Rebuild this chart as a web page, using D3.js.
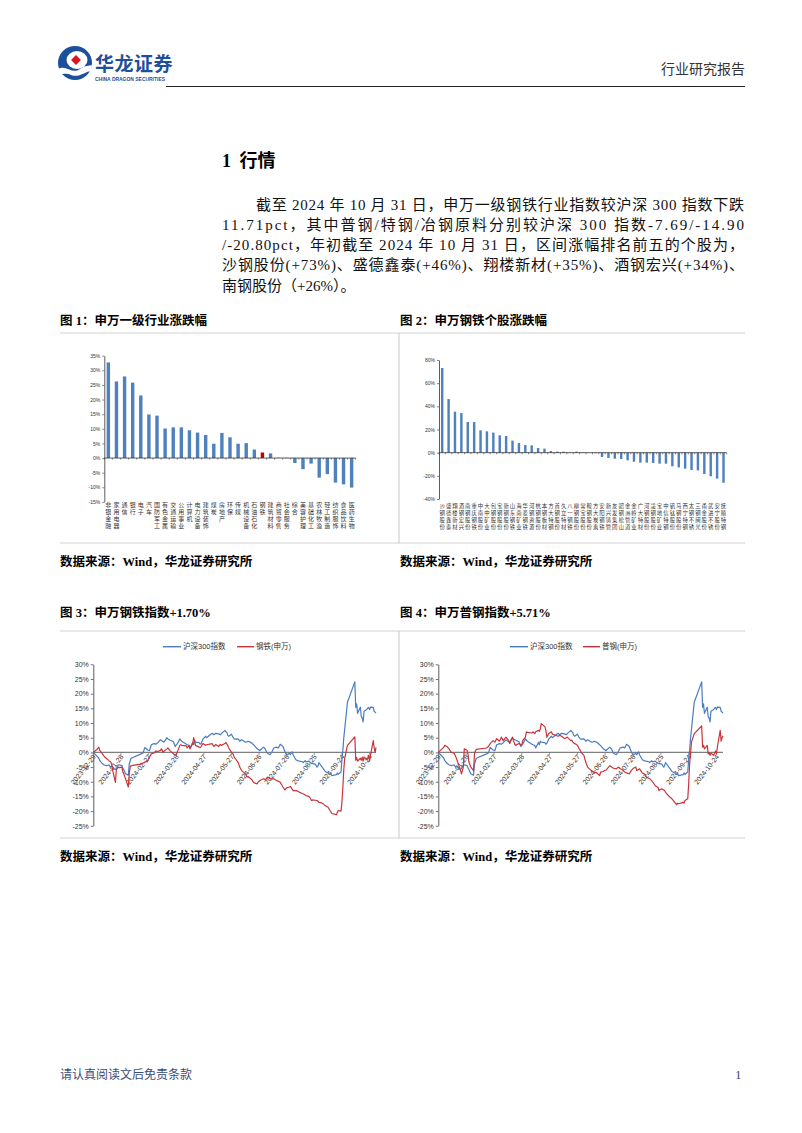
<!DOCTYPE html>
<html><head><meta charset="utf-8">
<script src="https://cdn.jsdelivr.net/npm/d3@7"></script>
<style>body{margin:0;background:#fff}</style>
</head><body><svg id="c" width="802" height="1133"></svg>
<script>
// ---------- DATA ----------
const industries = ["非银金融","家用电器","通信","银行","电子","汽车","国防军工","有色金属","交通运输","公用事业","计算机","电力设备","建筑装饰","煤炭","房地产","环保","传媒","机械设备","石油石化","钢铁","建筑材料","商贸零售","社会服务","综合","美容护理","基础化工","农林牧渔","轻工制造","纺织服饰","食品饮料","医药生物"];
const industryChange = [32.7,26.2,27.9,25.8,21.4,14.9,14.5,10.1,10.5,10.5,9.5,8.7,7.9,4.9,8.6,7.1,4.9,5.1,2.9,1.9,1.6,0.1,0.1,-1.7,-3.8,-1.9,-6.7,-5.5,-8.4,-9.0,-10.1];
const highlightIndustry = "钢铁";
const industryTicks = [-15,-10,-5,0,5,10,15,20,25,30,35];

const stocks = ["沙钢股份","盛德鑫泰","翔楼新材","酒钢宏兴","南钢股份","重庆钢铁","中南股份","大中矿业","包钢股份","宝钢股份","新钢股份","山东钢铁","海南矿业","华菱钢铁","河钢资源","杭钢股份","本钢板材","方大特钢","首钢股份","久立特材","八一钢铁","柳钢股份","常宝股份","鞍钢股份","方大炭素","安阳钢铁","新兴铸管","友发集团","韶钢松山","金洲管道","金岭矿业","广大特材","河钢股份","凌钢股份","宝地矿业","中信特钢","钒钛股份","马钢股份","西宁特钢","太钢不锈","三钢闽光","甬金股份","武进不锈","安宁股份","抚顺特钢"];
const stockChange = [73.1,46.3,35.4,34.2,26.5,26.4,19.3,18.4,17.3,15.0,14.4,10.4,8.3,6.6,6.3,4.0,3.5,1.4,0.9,0.9,0.3,0.9,0.3,0.1,-0.5,-3.7,-4.6,-5.2,-5.5,-6.6,-7.8,-8.6,-8.6,-8.9,-9.5,-9.5,-11.8,-12.7,-13.8,-15.0,-15.3,-18.4,-20.4,-22.4,-26.0];
const stockTicks = [-40,-20,0,20,40,60,80];

const dates = [
"2023-12-29","2024-01-02","2024-01-04","2024-01-05","2024-01-08","2024-01-10","2024-01-12","2024-01-15","2024-01-17","2024-01-18",
"2024-01-19","2024-01-22","2024-01-23","2024-01-25","2024-01-26","2024-01-29","2024-01-30","2024-01-31","2024-02-02","2024-02-05",
"2024-02-06","2024-02-07","2024-02-08","2024-02-19","2024-02-21","2024-02-23","2024-02-26","2024-02-28","2024-03-01","2024-03-04",
"2024-03-06","2024-03-08","2024-03-11","2024-03-12","2024-03-14","2024-03-15","2024-03-18","2024-03-19","2024-03-21","2024-03-25",
"2024-03-27","2024-03-28","2024-03-29","2024-04-01","2024-04-02","2024-04-03","2024-04-08","2024-04-09","2024-04-11","2024-04-12",
"2024-04-15","2024-04-16","2024-04-17","2024-04-18","2024-04-22","2024-04-23","2024-04-24","2024-04-26","2024-04-29","2024-04-30",
"2024-05-06","2024-05-08","2024-05-10","2024-05-13","2024-05-15","2024-05-16","2024-05-20","2024-05-21","2024-05-22","2024-05-23",
"2024-05-24","2024-05-27","2024-05-29","2024-05-30","2024-05-31","2024-06-03","2024-06-04","2024-06-05","2024-06-07","2024-06-11",
"2024-06-13","2024-06-14","2024-06-17","2024-06-18","2024-06-20","2024-06-21","2024-06-24","2024-06-25","2024-06-27","2024-06-28",
"2024-07-01","2024-07-03","2024-07-04","2024-07-05","2024-07-08","2024-07-10","2024-07-12","2024-07-15","2024-07-17","2024-07-19",
"2024-07-22","2024-07-24","2024-07-26","2024-07-29","2024-07-30","2024-08-01","2024-08-02","2024-08-05","2024-08-07","2024-08-09",
"2024-08-12","2024-08-13","2024-08-15","2024-08-16","2024-08-19","2024-08-20","2024-08-22","2024-08-23","2024-08-26","2024-08-28",
"2024-08-29","2024-08-30","2024-09-02","2024-09-04","2024-09-06","2024-09-09","2024-09-11","2024-09-12","2024-09-13","2024-09-18",
"2024-09-19","2024-09-20","2024-09-23","2024-09-24","2024-09-25","2024-09-26","2024-09-27","2024-09-30","2024-10-08","2024-10-09",
"2024-10-10","2024-10-11","2024-10-14","2024-10-15","2024-10-16","2024-10-17","2024-10-18","2024-10-21","2024-10-22","2024-10-23",
"2024-10-24","2024-10-25","2024-10-28","2024-10-29","2024-10-30","2024-10-31"];
const hs300 = [
0,-1.3,-2.0,-2.8,-3.9,-4.3,-4.5,-4.3,-5.0,-4.6,
-5.2,-5.8,-5.5,-4.3,-4.2,-4.5,-5.2,-5.8,-7.3,-7.8,
-4.0,-3.0,-2.0,-0.5,-0.2,1.7,0.8,0.6,2.6,3.0,
2.8,3.3,4.3,4.0,3.6,3.6,5.0,4.6,4.2,3.6,
2.0,2.5,2.8,4.6,4.2,3.8,2.8,2.6,2.4,1.5,
3.4,2.6,3.8,3.5,3.3,2.8,3.0,4.5,5.5,5.0,
6.5,6.0,6.5,6.3,6.0,6.4,7.5,7.0,6.8,5.8,
5.5,6.2,5.0,4.6,4.5,4.6,4.3,3.8,4.3,3.5,
3.6,3.8,3.4,3.2,2.6,2.3,1.2,1.0,0.6,1.0,
1.8,1.0,0.3,-0.3,-0.8,0.2,1.5,1.8,1.5,2.8,
2.0,0.3,-1.0,-0.3,-0.8,0.2,-0.8,-2.5,-2.8,-3.0,
-3.2,-3.5,-2.8,-3.2,-3.0,-3.3,-3.8,-3.8,-4.0,-5.0,
-4.6,-3.5,-4.8,-5.6,-6.5,-7.0,-7.5,-7.4,-7.9,-7.6,
-7.0,-7.5,-6.7,-2.3,0.7,4.9,7.9,17.1,24.0,15.3,
16.5,13.3,15.4,12.3,11.6,10.4,14.0,14.6,15.1,15.3,
14.6,15.4,15.3,14.0,13.7,13.4];
const steelSW = [
0,1.0,1.8,0.7,-0.5,-1.5,-2.0,-2.8,-3.3,-4.0,
-6.0,-10.2,-6.0,-5.0,-5.2,-5.0,-6.5,-7.3,-9.0,-11.8,
-7.5,-5.0,-4.5,-4.0,-3.6,-3.3,-2.8,-1.6,-0.5,-0.2,
0.5,0.3,0.7,1.2,0.0,0.5,1.2,1.5,0.7,-0.5,
-0.8,-1.0,0.0,2.4,2.6,2.4,2.2,1.5,2.4,1.2,
3.0,5.0,4.0,2.4,1.8,1.6,2.0,3.0,2.4,2.6,
3.0,2.0,2.7,2.0,2.7,2.4,3.0,3.4,2.8,2.4,
1.6,0.0,-0.7,-1.6,-2.0,-3.3,-4.0,-5.0,-6.2,-7.3,
-8.4,-8.2,-9.0,-9.2,-10.2,-10.4,-10.7,-10.1,-9.6,-9.4,
-9.0,-9.2,-9.0,-8.4,-9.0,-9.0,-9.0,-9.6,-9.8,-10.2,
-11.8,-12.8,-12.1,-11.8,-11.6,-12.5,-13.0,-13.0,-13.2,-13.6,
-14.0,-14.1,-14.5,-14.7,-15.0,-15.3,-16.4,-16.2,-16.3,-16.4,
-16.6,-17.0,-17.2,-17.6,-18.2,-18.7,-19.8,-20.2,-20.8,-21.2,
-20.5,-19.8,-20.0,-17.0,-11.9,-6.0,-2.0,2.4,5.3,-2.7,
-1.8,-3.0,-2.0,-2.7,-1.6,-3.0,-1.5,-2.5,-2.0,-1.0,
-3.0,-1.0,4.0,1.5,0.0,1.7];
const puGangSW = [
0,1.2,1.8,2.4,1.8,1.0,0.0,-0.3,-1.6,-2.5,
-3.3,-6.2,-7.3,-5.0,1.2,0.7,-0.5,-3.3,-5.0,-6.2,
-0.5,0.5,1.0,1.5,2.0,3.0,4.0,3.5,4.7,3.8,
5.2,4.0,5.2,4.8,4.0,3.0,5.2,4.0,2.4,3.0,
2.5,2.4,4.0,5.2,7.0,6.8,6.6,7.0,6.4,7.0,
7.5,7.2,8.0,9.8,8.7,7.5,5.2,6.4,7.0,6.2,
5.5,5.8,5.5,4.7,5.0,5.2,4.0,4.2,3.5,3.2,
3.0,2.4,1.2,0.8,0.0,-1.0,-2.2,-3.3,-5.0,-6.2,
-6.5,-6.7,-7.0,-7.3,-7.9,-6.7,-6.5,-6.2,-6.0,-5.6,
-4.5,-5.0,-5.2,-5.4,-5.6,-5.0,-5.5,-6.0,-6.7,-7.0,
-7.3,-6.2,-5.5,-5.0,-6.2,-5.8,-5.6,-7.0,-7.3,-8.4,
-8.8,-9.0,-9.6,-10.0,-11.3,-11.6,-11.9,-13.0,-12.4,-12.8,
-13.0,-13.6,-14.7,-15.3,-15.8,-17.0,-17.8,-17.3,-17.5,-17.0,
-17.3,-16.4,-15.8,-10.7,-3.9,-0.5,3.5,6.4,9.0,1.8,
2.4,1.2,2.4,-0.5,0.0,-1.0,-0.3,-1.0,-0.2,0.5,
-0.5,2.0,7.5,3.8,5.0,5.7];
const dateTicks = ["2023-12-29","2024-01-28","2024-02-27","2024-03-28","2024-04-27","2024-05-27","2024-06-26","2024-07-26","2024-08-25","2024-09-24","2024-10-24"];
const lineTicks = [-25,-20,-15,-10,-5,0,5,10,15,20,25,30];

// ---------- SETUP ----------
const CJK = '"Noto Sans CJK SC", sans-serif';
const SERIF = '"Liberation Serif", "Noto Sans CJK SC", serif';
const SANS = '"Liberation Sans", Arial, "Noto Sans CJK SC", sans-serif';
const BLUE = "#4a7cc0", RED = "#c9343a", BAR = "#4f81bd", BARRED = "#c00000";
const svg = d3.select("#c");
svg.append("rect").attr("width",802).attr("height",1133).attr("fill","#fff");
const parse = d3.timeParse("%Y-%m-%d");

// ---------- HEADER ----------
const logo = svg.append("g").attr("transform","translate(75,63)");
logo.append("circle").attr("r",17).attr("fill","#1c4f9c");
logo.append("ellipse").attr("cx",2).attr("cy",-3).attr("rx",10.5).attr("ry",9).attr("fill","#fff");
logo.append("path").attr("d","M-17,6 C-9,1 -3,12 5,6 C10,2 14,3 17,2 L16,8 C9,9 4,15 -4,12 C-9,10 -12,11 -16,12 Z").attr("fill","#fff");
logo.append("rect").attr("x",-3.5).attr("y",-3.5).attr("width",7).attr("height",7).attr("fill","#d7161e").attr("transform","translate(1,-3) rotate(45)");
svg.append("text").attr("x",95).attr("y",71).attr("font-family",CJK).attr("font-weight","bold").attr("font-size",19).attr("fill","#1c4f9c").attr("letter-spacing",0.5).text("华龙证券");
svg.append("text").attr("x",95).attr("y",80.5).attr("font-family",SANS).attr("font-weight","bold").attr("font-size",5.4).attr("fill","#1c4f9c").attr("textLength",70).attr("lengthAdjust","spacingAndGlyphs").text("CHINA DRAGON SECURITIES");
svg.append("line").attr("x1",166).attr("x2",745).attr("y1",86.5).attr("y2",86.5).attr("stroke","#222").attr("stroke-width",1.2);
svg.append("text").attr("x",745).attr("y",74).attr("text-anchor","end").attr("font-family",CJK).attr("font-size",14).attr("fill","#333").text("行业研究报告");

// ---------- BODY TEXT ----------
const h = svg.append("text").attr("x",222).attr("y",167).attr("font-family",SERIF).attr("font-weight","bold").attr("font-size",18).attr("fill","#000");
h.append("tspan").text("1 ");
h.append("tspan").attr("font-family",CJK).attr("dx",4).text("行情");

const para = [
  {x:256, w:488, t:"截至 2024 年 10 月 31 日，申万一级钢铁行业指数较沪深 300 指数下跌"},
  {x:222, w:522, t:"11.71pct，其中普钢/特钢/冶钢原料分别较沪深 300 指数-7.69/-14.90"},
  {x:222, w:522, t:"/-20.80pct，年初截至 2024 年 10 月 31 日，区间涨幅排名前五的个股为，"},
  {x:222, w:522, t:"沙钢股份(+73%)、盛德鑫泰(+46%)、翔楼新材(+35%)、酒钢宏兴(+34%)、"},
  {x:222, w:0,   t:"南钢股份（+26%）。"}
];
para.forEach((p,i)=>{
  const t = svg.append("text").attr("x",p.x).attr("y",209.5+i*20.3).attr("font-family",SERIF).attr("font-size",15).attr("fill","#111").text(p.t);
  if (p.w) t.attr("textLength",p.w).attr("lengthAdjust","spacing");
});

// ---------- CAPTIONS ----------
function caption(x,y,str){
  svg.append("text").attr("x",x).attr("y",y).attr("font-family",SERIF).attr("font-weight","bold").attr("font-size",12.5).attr("fill","#000").text(str);
}
caption(60,324.5,"图 1：申万一级行业涨跌幅");
caption(400,324.5,"图 2：申万钢铁个股涨跌幅");
caption(60,566,"数据来源：Wind，华龙证券研究所");
caption(400,566,"数据来源：Wind，华龙证券研究所");
caption(60,617,"图 3：申万钢铁指数+1.70%");
caption(400,617,"图 4：申万普钢指数+5.71%");
caption(60,861,"数据来源：Wind，华龙证券研究所");
caption(400,861,"数据来源：Wind，华龙证券研究所");

// frame lines
[333,543,631,838].forEach(y=>svg.append("line").attr("x1",60).attr("x2",745).attr("y1",y).attr("y2",y).attr("stroke","#d0d0d0").attr("stroke-width",1));
[[333,543],[631,838]].forEach(([a,b])=>svg.append("line").attr("x1",399).attr("x2",399).attr("y1",a).attr("y2",b).attr("stroke","#c8c8c8").attr("stroke-width",1));

// ---------- BAR CHARTS ----------
function vText(g, x, yBase, pitch, str, size){
  const t = g.append("text").attr("font-size",size).attr("text-anchor","middle").attr("font-family",CJK).attr("fill","#333");
  [...str].forEach((ch,i)=>t.append("tspan").attr("x",x).attr("y",yBase+i*pitch).text(ch));
}
function barChart(o){
  const g = svg.append("g");
  const x = d3.scaleBand().domain(o.cats).range([o.x0,o.x1]).paddingInner(o.pad).paddingOuter(o.pad/2);
  const y = d3.scaleLinear().domain(o.dom).range([o.yb,o.yt]);
  const ya = g.append("g").attr("transform",`translate(${o.x0},0)`)
    .call(d3.axisLeft(y).tickValues(o.ticks).tickFormat(d=>d+"%").tickSize(2).tickSizeOuter(0).tickPadding(2));
  ya.select(".domain").attr("stroke","#333").attr("stroke-width",0.8);
  ya.selectAll(".tick line").attr("stroke","#333").attr("stroke-width",0.6);
  ya.selectAll("text").attr("font-size",o.fs).attr("font-family",SANS).attr("fill","#333");
  g.selectAll("rect.bar").data(o.vals).join("rect")
    .attr("x",(d,i)=>x(o.cats[i])).attr("width",x.bandwidth())
    .attr("y",d=>y(Math.max(0,d))).attr("height",d=>Math.abs(y(d)-y(0)))
    .attr("fill",(d,i)=>o.cats[i]===o.hl?BARRED:BAR);
  const y0 = y(0);
  g.append("line").attr("x1",o.x0).attr("x2",o.x1).attr("y1",y0).attr("y2",y0).attr("stroke","#333").attr("stroke-width",0.8);
  const step = x.step();
  const b0 = o.x0 + (x(o.cats[0]) - o.x0) - (step - x.bandwidth())/2;
  d3.range(o.cats.length+1).forEach(i=>{
    const xx = Math.min(o.x1, Math.max(o.x0, b0 + i*step));
    g.append("line").attr("x1",xx).attr("x2",xx).attr("y1",y0).attr("y2",y0+1.6).attr("stroke","#333").attr("stroke-width",0.6);
  });
  o.cats.forEach(c=>vText(g, x(c)+x.bandwidth()/2, o.lblY, o.pitch, c, o.lfs));
}
barChart({cats:industries, vals:industryChange, hl:highlightIndustry, x0:104.3, x1:355.7, yb:501.9, yt:355.7, dom:[-15,35], ticks:industryTicks, pad:0.58, fs:5, lblY:507.3, pitch:7, lfs:6});
barChart({cats:stocks, vals:stockChange, hl:null, x0:439, x1:726.7, yb:499, yt:360, dom:[-40,80], ticks:stockTicks, pad:0.62, fs:5, lblY:507.6, pitch:7, lfs:5.4});

// ---------- LINE CHARTS ----------
function lineChart(o){
  const g = svg.append("g");
  const x = d3.scaleTime().domain([parse(dates[0]), parse(dates[dates.length-1])]).range([o.x0,o.x1]);
  const y = d3.scaleLinear().domain([-25,30]).range([825.8,664.3]);
  const ya = g.append("g").attr("transform",`translate(${o.x0},0)`)
    .call(d3.axisLeft(y).tickValues(lineTicks).tickFormat(d=>d+"%").tickSize(2.5).tickSizeOuter(0).tickPadding(2));
  ya.select(".domain").attr("stroke","#333").attr("stroke-width",0.8);
  ya.selectAll(".tick line").attr("stroke","#333").attr("stroke-width",0.7);
  ya.selectAll("text").attr("font-size",7).attr("font-family",SANS).attr("fill","#333");
  const y0 = y(0);
  g.append("line").attr("x1",o.x0).attr("x2",o.x1).attr("y1",y0).attr("y2",y0).attr("stroke","#7f7f7f").attr("stroke-width",1.3);
  dateTicks.forEach(s=>{
    const xx = x(parse(s));
    g.append("line").attr("x1",xx).attr("x2",xx).attr("y1",y0).attr("y2",y0+2.5).attr("stroke","#7f7f7f").attr("stroke-width",0.8);
    g.append("text").attr("transform",`translate(${xx+1},${y0+3}) rotate(-52)`).attr("text-anchor","end").attr("dy","0.35em")
      .attr("font-size",7).attr("font-family",SANS).attr("fill","#333").text(s);
  });
  const ln = d3.line().x((d,i)=>x(parse(dates[i]))).y(d=>y(d));
  g.append("path").datum(hs300).attr("d",ln).attr("fill","none").attr("stroke",BLUE).attr("stroke-width",1.2).attr("stroke-linejoin","round");
  g.append("path").datum(o.red).attr("d",ln).attr("fill","none").attr("stroke",RED).attr("stroke-width",1.2).attr("stroke-linejoin","round");
  // legend
  const ly = 646.7;
  g.append("line").attr("x1",o.lg[0]).attr("x2",o.lg[0]+18).attr("y1",ly).attr("y2",ly).attr("stroke",BLUE).attr("stroke-width",1.4);
  g.append("text").attr("x",o.lg[0]+20).attr("y",ly).attr("dy","0.35em").attr("font-size",7.5).attr("font-family",SANS).attr("fill","#333").text("沪深300指数");
  g.append("line").attr("x1",o.lg[1]).attr("x2",o.lg[1]+17).attr("y1",ly).attr("y2",ly).attr("stroke",RED).attr("stroke-width",1.4);
  g.append("text").attr("x",o.lg[1]+19).attr("y",ly).attr("dy","0.35em").attr("font-size",7.5).attr("font-family",SANS).attr("fill","#333").text(o.redName);
}
lineChart({x0:93.3, x1:376, red:steelSW, redName:"钢铁(申万)", lg:[163,237]});
lineChart({x0:438.3, x1:723, red:puGangSW, redName:"普钢(申万)", lg:[510,583]});

// ---------- FOOTER ----------
svg.append("text").attr("x",60).attr("y",1079).attr("font-family",CJK).attr("font-size",12).attr("fill","#3a4d7a").text("请认真阅读文后免责条款");
svg.append("text").attr("x",735).attr("y",1079).attr("font-family",SERIF).attr("font-size",13).attr("fill","#3a4d7a").text("1");
</script></body></html>
